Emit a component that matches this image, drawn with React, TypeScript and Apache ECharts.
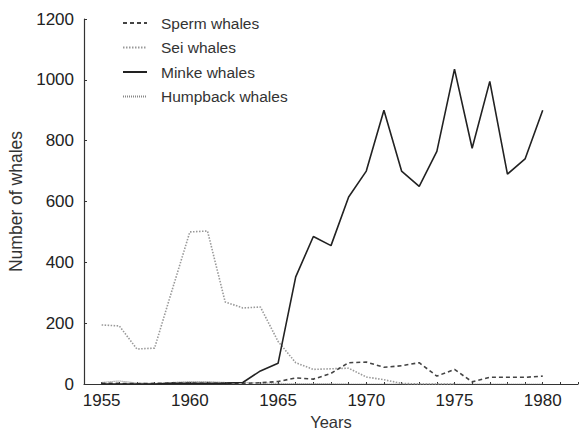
import React, { useEffect, useRef } from "react";
import * as echarts from "echarts";

const years = [1955, 1956, 1957, 1958, 1959, 1960, 1961, 1962, 1963, 1964, 1965, 1966, 1967, 1968, 1969, 1970, 1971, 1972, 1973, 1974, 1975, 1976, 1977, 1978, 1979, 1980];
const sperm = [2, 2, 1, 2, 3, 3, 2, 2, 2, 4, 8, 20, 16, 35, 70, 72, 55, 60, 70, 26, 48, 7, 22, 22, 22, 26];
const sei = [194, 191, 115, 118, 310, 500, 503, 270, 250, 253, 140, 70, 48, 50, 52, 23, 14, 2, 0, 0, 0, null, null, null, null, null];
const minke = [0, 0, 0, 0, 2, 2, 2, 3, 5, 43, 68, 352, 485, 455, 615, 700, 900, 700, 650, 765, 1035, 775, 995, 690, 740, 900];
const humpback = [5, 10, 3, 2, 5, 8, 8, 5, 5, 3, 2, 1, 1, 1, 0, 0, 0, 0, 0, 0, 0, 0, 0, 0, 0, 0];
const seriesNames = ["Sperm whales", "Sei whales", "Minke whales", "Humpback whales"];

const pairs = (vals: (number | null)[]) => years.map((y, i) => [y, vals[i]]);

export default function App() {
  const ref = useRef<HTMLDivElement>(null);
  useEffect(() => {
    if (!ref.current) return;
    const chart = echarts.init(ref.current, undefined, { renderer: "svg" });
    const font = "'Liberation Sans', Arial, Helvetica, sans-serif";
    chart.setOption({
      animation: false,
      textStyle: { fontFamily: font },
      grid: { left: 84, right: 1, top: 19, bottom: 46, outerBoundsMode: "none", containLabel: false },
      legend: {
        orient: "vertical",
        left: 117,
        top: 10,
        itemWidth: 24,
        itemHeight: 14,
        itemGap: 8.5,
        itemStyle: { color: "transparent", borderColor: "transparent", borderWidth: 0 },
        textStyle: { fontSize: 15.5, color: "#333", fontFamily: font, padding: [0, 0, 0, 9] },
        data: seriesNames,
      },
      xAxis: {
        type: "value",
        min: 1954,
        max: 1982,
        interval: 1,
        name: "Years",
        nameLocation: "middle",
        nameGap: 21,
        nameTextStyle: { fontSize: 16.5, color: "#333" },
        axisLine: { lineStyle: { color: "#333", width: 1.2 } },
        axisTick: { inside: true, length: 2, lineStyle: { color: "#333" } },
        axisLabel: {
          fontSize: 17,
          color: "#222",
          margin: 8,
          formatter: (v: number) => (v % 5 === 0 ? String(v) : ""),
        },
        splitLine: { show: false },
      },
      yAxis: {
        type: "value",
        min: 0,
        max: 1200,
        interval: 200,
        name: "Number of whales",
        nameLocation: "middle",
        nameGap: 51,
        nameTextStyle: { fontSize: 17.5, color: "#333" },
        axisLine: { show: true, lineStyle: { color: "#333", width: 1.2 } },
        axisTick: { show: true, inside: true, length: 3, lineStyle: { color: "#333" } },
        axisLabel: { fontSize: 17, color: "#222", margin: 10, formatter: (v: number) => String(v) },
        splitLine: { show: false },
      },
      series: [
        {
          name: seriesNames[0],
          type: "line",
          data: pairs(sperm),
          symbol: "none",
          lineStyle: { color: "#444", width: 1.6, type: [4, 3] },
          itemStyle: { color: "#444" },
          z: 3,
        },
        {
          name: seriesNames[1],
          type: "line",
          data: pairs(sei),
          symbol: "none",
          lineStyle: { color: "#999", width: 1.6, type: [1.5, 1.5] },
          itemStyle: { color: "#999" },
          z: 2,
        },
        {
          name: seriesNames[2],
          type: "line",
          data: pairs(minke),
          symbol: "none",
          lineStyle: { color: "#222", width: 1.6, type: "solid" },
          itemStyle: { color: "#222" },
          z: 4,
        },
        {
          name: seriesNames[3],
          type: "line",
          data: pairs(humpback),
          symbol: "none",
          lineStyle: { color: "#888", width: 1.2, type: [1, 1] },
          itemStyle: { color: "#888" },
          z: 1,
        },
      ],
    });
    return () => chart.dispose();
  }, []);
  return <div ref={ref} style={{ width: 579, height: 430, position: "absolute", left: 0, top: 0 }} />;
}
